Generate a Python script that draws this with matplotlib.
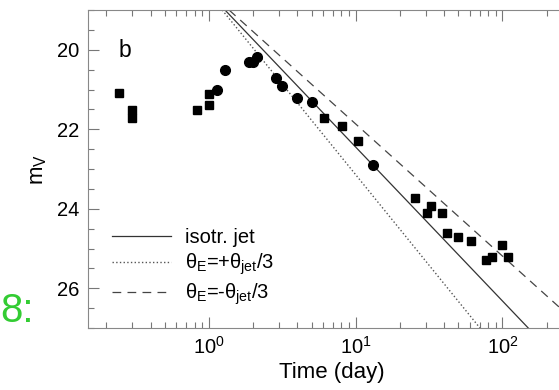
import numpy as np
import matplotlib
matplotlib.use('Agg')
import matplotlib.pyplot as plt
from matplotlib.ticker import LogLocator, MultipleLocator, NullFormatter

plt.rcParams['font.family'] = ['Liberation Sans', 'DejaVu Sans']
plt.rcParams['mathtext.fontset'] = 'custom'
plt.rcParams['mathtext.rm'] = 'Liberation Sans'
plt.rcParams['mathtext.it'] = 'Liberation Sans'
plt.rcParams['mathtext.sf'] = 'Liberation Sans'

# photometry (time in days, V magnitude)
sq_t = [0.244, 0.30, 0.30, 0.83, 1.0, 1.0, 6.11, 8.03, 10.3, 25.4, 30.5, 32.4,
        38.5, 41.7, 50.0, 60.8, 76.9, 85.2, 100.0, 110.0]
sq_m = [21.1, 21.51, 21.72, 21.51, 21.40, 21.11, 21.71, 21.91, 22.30, 23.72, 24.1,
        23.92, 24.1, 24.61, 24.71, 24.81, 25.29, 25.21, 24.9, 25.21]

circ_t = [1.14, 1.29, 1.88, 2.0, 2.11, 2.86, 3.16, 4.0, 5.01, 13.2]
circ_m = [21.0, 20.52, 20.31, 20.31, 20.19, 20.70, 20.91, 21.22, 21.32, 22.91]

# model curves, end points
iso_t = [1.285, 150.0]
iso_m = [19.0, 27.0]
plus_t = [1.23, 70.3]
plus_m = [19.0, 27.0]
minus_t = [1.37, 243.0]
minus_m = [19.0, 26.47]

labels = ['isotr. jet',
          r'$\theta_{\rm E}$=+$\theta_{\rm jet}$/3',
          r'$\theta_{\rm E}$=-$\theta_{\rm jet}$/3']

fig = plt.figure(figsize=(5.59, 3.90), dpi=100)
ax = fig.add_axes([88/559, 1-328/390, (575.75-88)/559, 318/390])

ax.plot(iso_t, iso_m, '-', color='#333333', lw=0.9, label=labels[0])
ax.plot(plus_t, plus_m, ':', color='#555555', lw=1.0, label=labels[1])
ax.plot(minus_t, minus_m, '--', color='#444444', lw=0.9, dashes=(7, 5), label=labels[2])

ax.plot(sq_t, sq_m, 's', color='black', ms=5.8, ls='none')
ax.plot(circ_t, circ_m, 'o', color='black', ms=7, ls='none')

ax.set_xscale('log')
ax.set_xlim(0.1497, 316.2)
ax.set_ylim(27, 19)

ax.xaxis.set_major_locator(LogLocator(base=10))
ax.xaxis.set_minor_locator(LogLocator(base=10, subs=np.arange(2, 10)))
ax.xaxis.set_minor_formatter(NullFormatter())
ax.yaxis.set_major_locator(MultipleLocator(2))
ax.yaxis.set_minor_locator(MultipleLocator(0.5))

ax.tick_params(which='both', direction='in', top=True, right=False,
               color='#777777', labelsize=14.5, pad=6)
ax.tick_params(which='major', length=8, width=0.8)
ax.tick_params(which='minor', length=4.5, width=0.8)
for side in ['left', 'bottom', 'top']:
    ax.spines[side].set_color('#888888')
ax.spines['right'].set_visible(False)

ax.set_xlabel('Time (day)', fontsize=16, labelpad=3)
ax.set_ylabel(r'm$_{\rm V}$', fontsize=16, labelpad=6)

ax.text(0.062, 0.852, 'b', transform=ax.transAxes, fontsize=16.5)

ax.legend(frameon=False, loc='upper left', bbox_to_anchor=(0.012, 0.37),
          fontsize=14.5, handlelength=2.95, handletextpad=0.7, labelspacing=0.22)

fig.text(0.0, 1-322/390, '8:', fontsize=29, color='#33cc33', ha='left', va='baseline')

fig.savefig('out.png', dpi=100)
